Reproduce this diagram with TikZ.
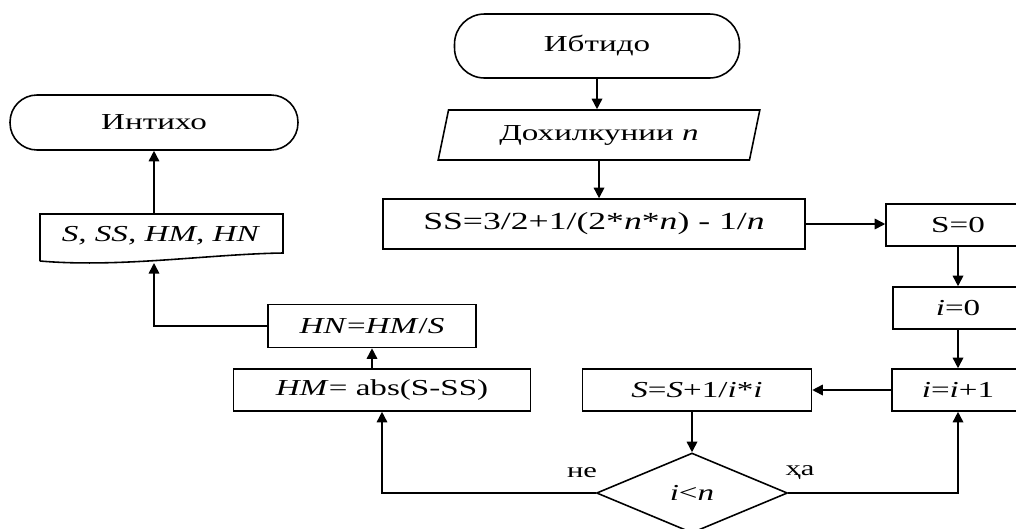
\documentclass[tikz,border=0pt]{standalone}
\usepackage{fontspec}
\setmainfont{Liberation Serif}[FakeStretch=1.45]
\usetikzlibrary{arrows.meta,shapes.geometric,calc}
\begin{document}
\begin{tikzpicture}[x=0.02cm,y=-0.02cm,
  every node/.style={font=\fontsize{13}{15}\selectfont},
  box/.style={draw, line width=0.9pt, rectangle, inner sep=0pt},
  conn/.style={line width=0.9pt},
  arr/.style={conn, -{Triangle[length=6pt,width=6pt]}},
  lbl/.style={font=\fontsize{12}{14}\selectfont}]
\useasboundingbox (0,0) rectangle (1016,528);
\clip (0,0) rectangle (1016,528);
% nodes
\node[box, rounded corners=0.6cm, minimum width=5.7cm, minimum height=1.28cm] (start) at (597,46) {Ибтидо};
\node[draw, line width=0.9pt, trapezium, trapezium left angle=71, trapezium right angle=109, trapezium stretches=true, minimum width=6.44cm, minimum height=1cm, inner sep=0pt] (inp) at (599,135) {Дохилкунии \textit{n}};
\node[box, minimum width=8.44cm, minimum height=1cm, font=\fontsize{14}{16}\selectfont] (ss) at (594,224) {SS=3/2+1/(2*\textit{n}*\textit{n}) - 1/\textit{n}};
\node[box, minimum width=2.88cm, minimum height=0.84cm] (s0) at (958,225) {S=0};
\node[box, minimum width=2.6cm, minimum height=0.84cm] (i0) at (958,308) {\textit{i}=0};
\node[box, minimum width=2.64cm, minimum height=0.84cm] (inc) at (958,390) {\textit{i}=\textit{i}+1};
\node[box, minimum width=4.58cm, minimum height=0.84cm] (sum) at (697,390) {\textit{S}=\textit{S}+1/\textit{i}*\textit{i}};
\node[draw, line width=0.9pt, diamond, minimum width=3.82cm, minimum height=1.6cm, inner sep=0pt] (dec) at (692,493) {\textit{i}<\textit{n}};
\node[box, minimum width=5.94cm, minimum height=0.84cm] (hm) at (382,390) {\textit{HM}= abs(S-SS)};
\node[box, minimum width=4.16cm, minimum height=0.86cm] (hn) at (372,326) {\textit{HN}=\textit{HM}/\textit{S}};
\node (out) at (161,236) {\textit{S, SS, HM, HN}};
\draw[conn] (40,261) -- (40,214) -- (283,214) -- (283,253) .. controls (210,254) and (120,268) .. (40,261);
\coordinate (outt) at (154,214);
\coordinate (outb) at (154,263);
\node[box, rounded corners=0.54cm, minimum width=5.76cm, minimum height=1.1cm] (end) at (154,122.5) {Интихо};
\node[lbl] (no) at (582,473) {не};
\node[lbl] (yes) at (800,473) {ҳа};
% connectors
\draw[arr] (start.south) -- (start.south |- inp.north);
\draw[arr] (inp.south) -- (inp.south |- ss.north);
\draw[arr] (ss.east) -- (ss.east -| s0.west);
\draw[arr] (s0.south) -- (i0.north);
\draw[arr] (i0.south) -- (inc.north);
\draw[arr] (inc.west) -- (sum.east);
\draw[arr] (dec.north |- sum.south) -- (dec.north);
\draw[arr] (dec.east) -- (dec.east -| inc.south) -- (inc.south);
\draw[arr] (dec.west) -- (dec.west -| hm.south) -- (hm.south);
\draw[arr] (hn.south |- hm.north) -- (hn.south);
\draw[arr] (hn.west) -| (outb);
\draw[arr] (outt) -- (outt |- end.south);
\end{tikzpicture}
\end{document}
